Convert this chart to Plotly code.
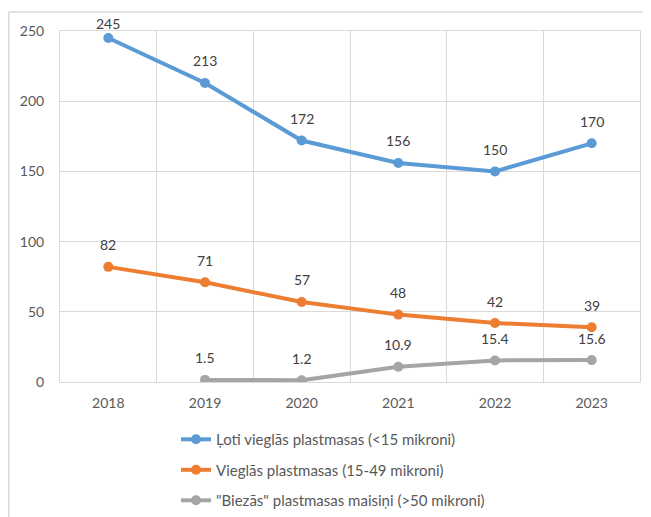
import plotly.graph_objects as go

years = ["2018", "2019", "2020", "2021", "2022", "2023"]
very_light = [245, 213, 172, 156, 150, 170]
light = [82, 71, 57, 48, 42, 39]
thick = [None, 1.5, 1.2, 10.9, 15.4, 15.6]
names = [
    "Ļoti vieglās plastmasas (<15 mikroni)",
    "Vieglās plastmasas (15-49 mikroni)",
    "\"Biezās\" plastmasas maisiņi (>50 mikroni)",
]
colors = ["#5B9BD5", "#ED7D31", "#A5A5A5"]
series = [very_light, light, thick]

FONT = "Lato"
# The page body has an 8px default margin; the figure is sized to fill the rest.
W, H = 643, 509
L, T, PW, PH = 52, 23, 580, 351

fig = go.Figure()
annotations = []
for i, (vals, name, col) in enumerate(zip(series, names, colors)):
    fig.add_trace(go.Scatter(
        x=years, y=vals, name=name, mode="lines+markers",
        line=dict(color=col, width=4), marker=dict(color=col, size=10),
        legendgroup=f"g{i}", connectgaps=False,
    ))
    for j, v in enumerate(vals):
        if v is None:
            continue
        annotations.append(dict(
            x=j, y=v, xref="x", yref="y", text=f"{v:g}", showarrow=False,
            yshift=22 if v < 240 else 15,
            font=dict(family=FONT, size=14, color="#404040"),
        ))

frame_x = (0.75 - L) / PW
frame_y = (T + PH - 4) / PH
fig.update_layout(
    width=W, height=H,
    margin=dict(l=L, r=W - L - PW, t=T, b=H - T - PH, autoexpand=False),
    paper_bgcolor="white", plot_bgcolor="white",
    font=dict(family=FONT, size=14, color="#595959"),
    annotations=annotations,
    showlegend=True,
    legend=dict(
        x=0.2, y=-0.117, xanchor="left", yanchor="top",
        orientation="v", tracegroupgap=8,
        font=dict(family=FONT, size=15, color="#595959"),
        bgcolor="rgba(0,0,0,0)",
    ),
    shapes=[
        dict(type="line", xref="paper", yref="paper",
             x0=frame_x, x1=1.2, y0=frame_y, y1=frame_y,
             line=dict(color="#D9D9D9", width=1.5)),
        dict(type="line", xref="paper", yref="paper",
             x0=frame_x, x1=frame_x, y0=frame_y, y1=-0.5,
             line=dict(color="#D9D9D9", width=1.5)),
    ],
)
fig.update_xaxes(
    type="category", tickson="boundaries", showgrid=True, gridcolor="#D9D9D9",
    gridwidth=1, ticks="", showline=True, linecolor="#D9D9D9", mirror=True,
    ticklabelstandoff=8, zeroline=False, range=[-0.5, 5.5], automargin=False,
)
fig.update_yaxes(
    range=[0, 250], dtick=50, showgrid=True, gridcolor="#D9D9D9", gridwidth=1,
    ticks="", showline=True, linecolor="#D9D9D9", mirror=True,
    ticklabelstandoff=12, zeroline=False, automargin=False,
)
fig.write_html("out.html")
